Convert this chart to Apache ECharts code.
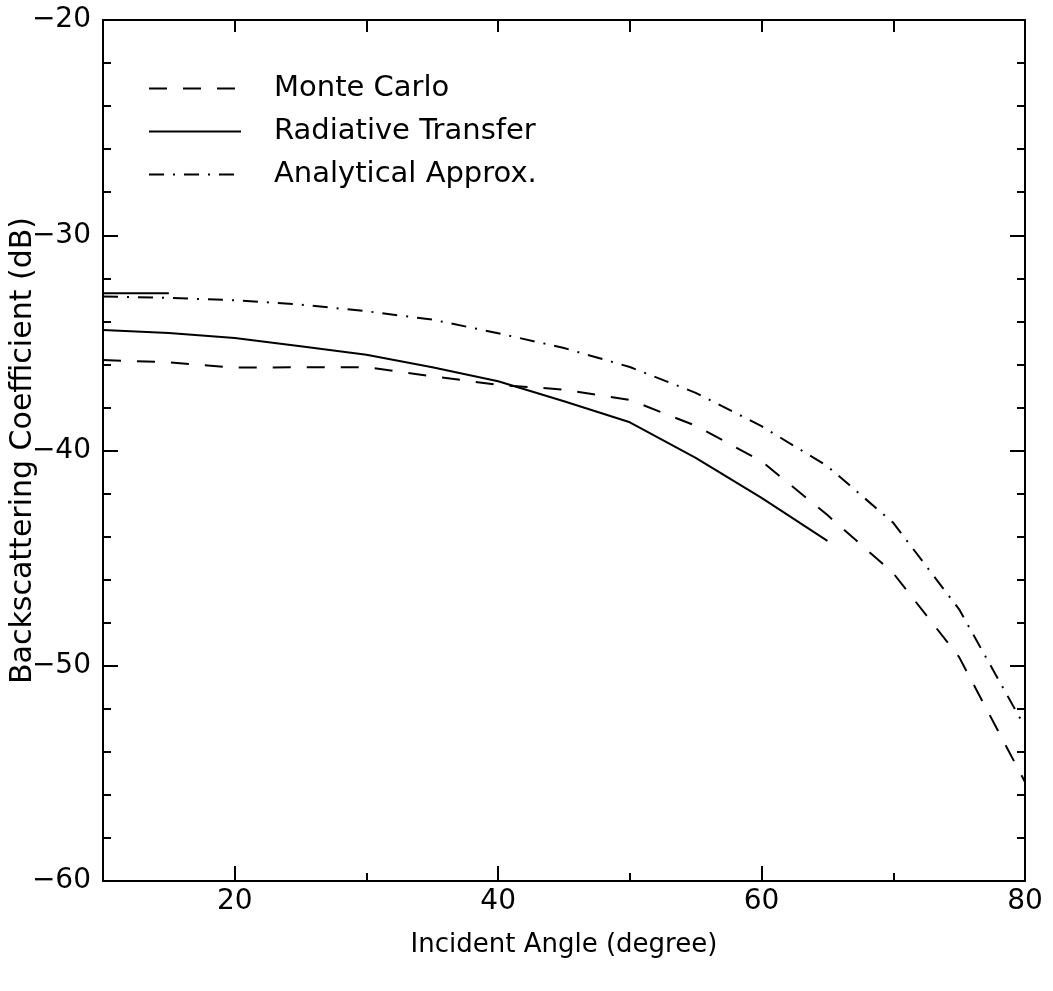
<!DOCTYPE html>
<html>
<head>
<meta charset="utf-8">
<script src="https://cdn.jsdelivr.net/npm/echarts@6/dist/echarts.min.js"></script>
<style>
  html, body { margin: 0; padding: 0; background: #fff; }
  #chart { width: 1053px; height: 991px; }
</style>
</head>
<body>
<div id="chart"></div>
<script>
// incident angle (degree)
const angles = [10, 15, 20, 25, 30, 35, 40, 45, 50, 55, 60, 65, 70, 75, 80]
const monteCarlo = [-35.8, -35.9, -36.15, -36.13, -36.13, -36.55, -36.95, -37.17, -37.65, -38.85, -40.5, -43.0, -45.7, -49.6, -55.4]
const radiative = [-34.4, -34.54, -34.77, -35.16, -35.55, -36.13, -36.78, -37.71, -38.69, -40.34, -42.2, -44.2]
const analytical = [-32.84, -32.91, -33.02, -33.22, -33.53, -33.92, -34.55, -35.24, -36.12, -37.32, -38.87, -40.73, -43.36, -47.38, -52.85]
// short stray segment at the upper left
const strayX = [10, 15]
const strayY = [-32.7, -32.7]

const xMajor = [20, 40, 60]
const xMinor = [30, 50, 70]
const xLabels = [20, 40, 60, 80]
const xTop = [20, 30, 40, 50, 60, 70]

const FONT = 'DejaVu Sans'
const pair = (xs, ys) => ys.map((v, i) => [xs[i], v])

const option = {
  animation: false,
  backgroundColor: '#fff',
  grid: { left: 103, top: 20, right: 28, bottom: 110, outerBoundsMode: 'none', containLabel: false },
  legend: {
    orient: 'vertical',
    left: 148,
    top: 74,
    padding: 0,
    itemWidth: 92,
    itemHeight: 14,
    itemGap: 14,
    data: ['Monte Carlo', 'Radiative Transfer', 'Analytical Approx.'],
    itemStyle: { opacity: 0 },
    textStyle: { fontFamily: FONT, fontSize: 29, color: '#000', padding: [0, 0, 0, 28] }
  },
  xAxis: [
    {
      type: 'value',
      min: 10,
      max: 80,
      position: 'bottom',
      name: 'Incident Angle (degree)',
      nameLocation: 'middle',
      nameGap: 51,
      nameMoveOverlap: false,
      nameTextStyle: { fontFamily: FONT, fontSize: 26, color: '#000' },
      axisLine: { show: true, lineStyle: { color: '#000', width: 2 } },
      axisTick: { show: true, inside: true, length: 15, customValues: xMajor, lineStyle: { color: '#000', width: 2 } },
      axisLabel: { customValues: xLabels, fontFamily: FONT, fontSize: 28, color: '#000', margin: 7 },
      splitLine: { show: false }
    },
    {
      type: 'value',
      min: 10,
      max: 80,
      position: 'bottom',
      axisLine: { show: false },
      axisTick: { show: true, inside: true, length: 8, customValues: xMinor, lineStyle: { color: '#000', width: 2 } },
      axisLabel: { show: false },
      splitLine: { show: false }
    },
    {
      type: 'value',
      min: 10,
      max: 80,
      position: 'top',
      axisLine: { show: true, lineStyle: { color: '#000', width: 2 } },
      axisTick: { show: true, inside: true, length: 12, customValues: xTop, lineStyle: { color: '#000', width: 2 } },
      axisLabel: { show: false },
      splitLine: { show: false }
    }
  ],
  yAxis: [
    {
      type: 'value',
      min: -60,
      max: -20,
      interval: 10,
      position: 'left',
      name: 'Backscattering Coefficient (dB)',
      nameLocation: 'middle',
      nameGap: 65,
      nameMoveOverlap: false,
      nameTextStyle: { fontFamily: FONT, fontSize: 30, color: '#000' },
      axisLine: { show: true, lineStyle: { color: '#000', width: 2 } },
      axisTick: { show: true, inside: true, length: 15, lineStyle: { color: '#000', width: 2 } },
      minorTick: { show: true, splitNumber: 5, length: 8, lineStyle: { color: '#000', width: 2 } },
      axisLabel: {
        fontFamily: FONT, fontSize: 28, color: '#000', margin: 12,
        formatter: v => String(v).replace('-', '\u2212')
      },
      splitLine: { show: false }
    },
    {
      type: 'value',
      min: -60,
      max: -20,
      interval: 10,
      position: 'right',
      axisLine: { show: true, lineStyle: { color: '#000', width: 2 } },
      axisTick: { show: true, inside: true, length: 15, lineStyle: { color: '#000', width: 2 } },
      minorTick: { show: true, splitNumber: 5, length: 8, lineStyle: { color: '#000', width: 2 } },
      axisLabel: { show: false },
      splitLine: { show: false }
    }
  ],
  series: [
    {
      name: 'Monte Carlo',
      type: 'line',
      symbol: 'none',
      data: pair(angles, monteCarlo),
      lineStyle: { color: '#000', width: 2, type: [18, 16] },
      itemStyle: { color: '#000' }
    },
    {
      name: 'Radiative Transfer',
      type: 'line',
      symbol: 'none',
      data: pair(angles, radiative),
      lineStyle: { color: '#000', width: 2, type: 'solid' },
      itemStyle: { color: '#000' }
    },
    {
      name: 'Analytical Approx.',
      type: 'line',
      symbol: 'none',
      data: pair(angles, analytical),
      lineStyle: { color: '#000', width: 2, type: [15, 9, 2, 9] },
      itemStyle: { color: '#000' }
    },
    {
      name: 'stray',
      type: 'line',
      symbol: 'none',
      data: pair(strayX, strayY),
      lineStyle: { color: '#000', width: 2, type: 'solid' },
      itemStyle: { color: '#000' }
    }
  ]
}

const myChart = echarts.init(document.getElementById('chart'))
myChart.setOption(option)
</script>
</body>
</html>
